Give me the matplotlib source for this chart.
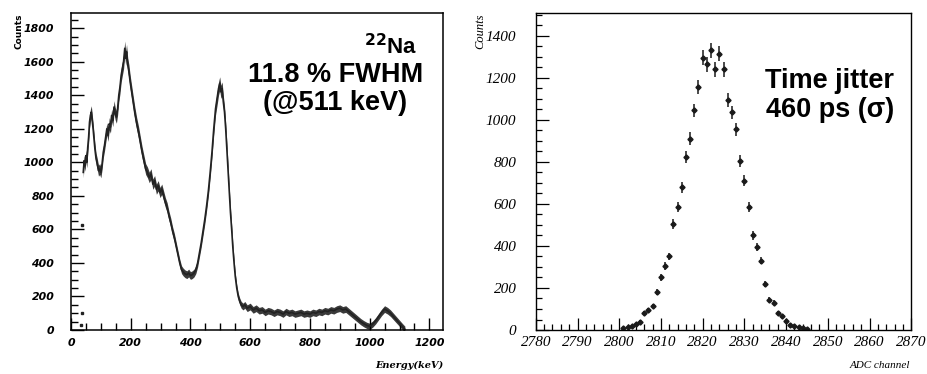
import numpy as np
import matplotlib
matplotlib.use("Agg")
import matplotlib.pyplot as plt
from matplotlib.ticker import MultipleLocator

# --- left panel: 22Na energy spectrum ---
energy = [41, 44, 47, 50, 53, 56, 59, 62, 65, 68, 71, 74, 77, 80, 84, 88, 92, 96, 100,
          104, 108, 112, 116, 120, 124, 128, 132, 136, 140, 144, 148, 152, 156, 160,
          164, 168, 172, 176, 180, 183, 186, 190, 194, 198, 203, 208, 214, 220, 226,
          232, 238, 244, 250, 256, 262, 268, 274, 280, 286, 292, 298, 304, 310, 316,
          322, 328, 334, 340, 346, 352, 358, 364, 370, 376, 382, 388, 394, 400, 406,
          412, 418, 424, 430, 436, 442, 448, 454, 460, 466, 472, 478, 484, 490, 494,
          498, 502, 506, 510, 514, 518, 522, 526, 530, 534, 538, 542, 546, 550, 555,
          560, 565, 570, 576, 582, 590, 600, 610, 620, 630, 640, 650, 660, 670, 680,
          690, 700, 710, 720, 730, 740, 750, 760, 770, 780, 790, 800, 810, 820, 830,
          840, 850, 860, 870, 880, 890, 900, 910, 920, 930, 940, 950, 960, 970, 980,
          990, 1000, 1010, 1020, 1030, 1040, 1050, 1060, 1070, 1080, 1090, 1100,
          1110, 1118]
counts_e = [940, 1010, 980, 1040, 1000, 1090, 1150, 1240, 1280, 1300, 1250, 1200, 1140,
            1080, 1020, 990, 950, 960, 940, 990, 1060, 1100, 1150, 1200, 1160, 1230,
            1210, 1280, 1250, 1330, 1290, 1270, 1320, 1400, 1450, 1520, 1560, 1600,
            1680, 1620, 1660, 1580, 1540, 1480, 1420, 1360, 1290, 1230, 1180, 1120,
            1060, 1010, 960, 940, 910, 930, 870, 890, 840, 860, 820, 840, 800, 760,
            730, 680, 640, 590, 550, 500, 450, 400, 360, 345, 335, 330, 340, 325, 330,
            340, 360, 400, 460, 520, 590, 660, 740, 830, 940, 1060, 1200, 1320, 1390,
            1440, 1470, 1420, 1440, 1360, 1300, 1200, 1080, 950, 820, 700, 600, 490,
            400, 320, 250, 200, 170, 150, 140, 150, 130, 140, 120, 130, 115, 120, 105,
            115, 110, 100, 110, 105, 95, 110, 100, 105, 95, 100, 105, 95, 100, 95, 105,
            100, 110, 105, 115, 110, 120, 115, 125, 130, 120, 125, 110, 95, 80, 65, 50,
            38, 28, 22, 35, 55, 80, 105, 125, 115, 100, 80, 60, 40, 20, 5]
low_energy = [34, 37, 37]
low_counts = [30, 100, 625]

# --- right panel: time jitter ---
channel = list(range(2801, 2846))
counts_t = [8, 12, 20, 30, 40, 80, 95, 115, 180, 250, 305, 350, 505, 585, 680, 825,
            910, 1045, 1155, 1295, 1265, 1330, 1240, 1315, 1240, 1095, 1035, 955, 805,
            710, 585, 450, 395, 330, 220, 145, 130, 80, 65, 45, 25, 20, 15, 8, 5]

fig = plt.figure(figsize=(9.27, 3.74), dpi=100)

# left
ax1 = fig.add_axes([0.0766, 0.1176, 0.4014, 0.8474])
e = np.array(energy)
c = np.array(counts_e, dtype=float)
err = 18 + 0.015 * c
ax1.fill_between(e, c - err, c + err, color="#3a3a3a", lw=0)
ax1.plot(e, c, color="#222222", lw=1.2)
ax1.plot(low_energy, low_counts, ls="none", marker="s", ms=1.6, color="#222222")
ax1.set_xlim(0, 1246)
ax1.set_ylim(0, 1890)
ax1.xaxis.set_major_locator(MultipleLocator(200))
ax1.xaxis.set_minor_locator(MultipleLocator(50))
ax1.yaxis.set_major_locator(MultipleLocator(200))
ax1.yaxis.set_minor_locator(MultipleLocator(50))
ax1.tick_params(which="both", direction="in", top=False, right=False, width=1.0)
ax1.tick_params(which="major", length=9)
ax1.tick_params(axis="x", which="major", pad=6)
ax1.tick_params(axis="y", which="major", pad=12)
ax1.tick_params(which="minor", length=5)
for lab in ax1.get_xticklabels() + ax1.get_yticklabels():
    lab.set_fontfamily("DejaVu Sans")
    lab.set_fontweight("bold")
    lab.set_fontstyle("italic")
    lab.set_fontsize(7.8)
for sp in ax1.spines.values():
    sp.set_linewidth(1.1)
fig.text(0.021, 0.965, "Counts", rotation=90, ha="center", va="top",
         fontsize=6.5, fontweight="bold", family="DejaVu Sans")
fig.text(0.478, 0.01, "Energy(keV)", ha="right", va="bottom",
         fontsize=7, fontweight="bold", style="italic", family="DejaVu Serif")
ax1.text(0.93, 0.895, r"$^{\mathbf{22}}$Na", transform=ax1.transAxes, ha="right",
         va="center", fontsize=16, fontweight="bold", family="Liberation Sans")
ax1.text(0.71, 0.805, "11.8 % FWHM", transform=ax1.transAxes, ha="center",
         va="center", fontsize=19.5, fontweight="bold", family="Liberation Sans")
ax1.text(0.71, 0.715, "(@511 keV)", transform=ax1.transAxes, ha="center",
         va="center", fontsize=19.5, fontweight="bold", family="Liberation Sans")

# right
ax2 = fig.add_axes([0.578, 0.1176, 0.405, 0.8474])
ct = np.array(counts_t, dtype=float)
ax2.errorbar(channel, ct, yerr=np.sqrt(ct), fmt="D", ms=2.6, color="#1a1a1a",
             ecolor="#1a1a1a", elinewidth=1.1, capsize=0)
ax2.set_xlim(2780, 2870)
ax2.set_ylim(0, 1508)
ax2.xaxis.set_major_locator(MultipleLocator(10))
ax2.xaxis.set_minor_locator(MultipleLocator(2))
ax2.yaxis.set_major_locator(MultipleLocator(200))
ax2.yaxis.set_minor_locator(MultipleLocator(50))
ax2.tick_params(which="both", direction="in", top=False, right=False, width=0.9)
ax2.tick_params(which="major", length=9)
ax2.tick_params(axis="x", which="major", pad=4)
ax2.tick_params(axis="y", which="major", pad=14)
ax2.tick_params(which="minor", length=4)
for lab in ax2.get_xticklabels() + ax2.get_yticklabels():
    lab.set_fontfamily("Liberation Serif")
    lab.set_fontstyle("italic")
    lab.set_fontsize(11)
for sp in ax2.spines.values():
    sp.set_linewidth(1.0)
fig.text(0.518, 0.965, "Counts", rotation=90, ha="center", va="top",
         fontsize=9, style="italic", family="Liberation Serif")
fig.text(0.982, 0.01, "ADC channel", ha="right", va="bottom",
         fontsize=8, style="italic", family="Liberation Serif")
ax2.text(0.955, 0.785, "Time jitter", transform=ax2.transAxes, ha="right",
         va="center", fontsize=19.5, fontweight="bold", family="Liberation Sans")
ax2.text(0.955, 0.695, "460 ps (σ)", transform=ax2.transAxes, ha="right",
         va="center", fontsize=19.5, fontweight="bold", family="Liberation Sans")

fig.savefig("out.png", dpi=100)
